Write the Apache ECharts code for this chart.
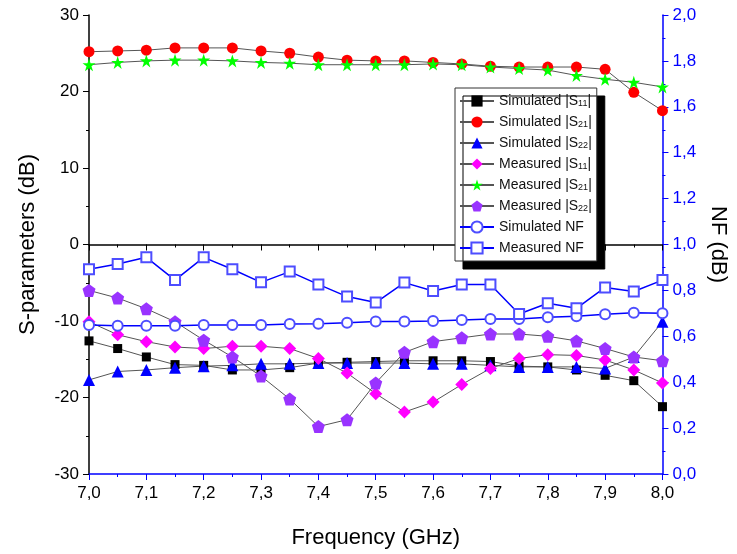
<!doctype html>
<html>
<head>
    <meta charset="utf-8">
    <title>S-parameters and NF</title>
    <script src="https://cdn.jsdelivr.net/npm/echarts@6/dist/echarts.min.js"></script>
</head>
<body style="margin:0;padding:0;background:#fff;">
    <div id="tb" style="width:737px;height:554px;"></div>
    <script>
        // frequency points (GHz)
        var freq = [7.00, 7.05, 7.10, 7.15, 7.20, 7.25, 7.30, 7.35, 7.40, 7.45, 7.50,
                    7.55, 7.60, 7.65, 7.70, 7.75, 7.80, 7.85, 7.90, 7.95, 8.00];
        // S-parameters (dB), left axis
        var simS11 = [-12.6, -13.6, -14.7, -15.7, -15.8, -16.4, -16.4, -16.1, -15.5, -15.4, -15.3,
                      -15.2, -15.2, -15.2, -15.3, -15.9, -16.0, -16.4, -17.1, -17.8, -21.2];
        var simS21 = [25.2, 25.3, 25.4, 25.7, 25.7, 25.7, 25.3, 25.0, 24.5, 24.1, 24.0,
                      24.0, 23.8, 23.6, 23.3, 23.2, 23.2, 23.2, 22.9, 19.9, 17.5];
        var simS22 = [-17.7, -16.6, -16.4, -16.1, -15.9, -15.8, -15.6, -15.6, -15.5, -15.5, -15.5,
                      -15.5, -15.6, -15.6, -15.8, -16.0, -16.0, -16.0, -16.2, -14.7, -10.1];
        var measS11 = [-10.1, -11.8, -12.7, -13.4, -13.6, -13.3, -13.3, -13.6, -14.9, -16.8, -19.5,
                       -21.9, -20.6, -18.3, -16.2, -14.9, -14.4, -14.5, -15.1, -16.4, -18.1];
        var measS21 = [23.5, 23.8, 24.0, 24.1, 24.1, 24.0, 23.8, 23.7, 23.5, 23.5, 23.5,
                       23.5, 23.6, 23.5, 23.2, 23.0, 22.8, 22.1, 21.6, 21.2, 20.6];
        var measS22 = [-6.0, -7.0, -8.4, -10.1, -12.5, -14.7, -17.2, -20.2, -23.8, -22.9, -18.1,
                       -14.1, -12.7, -12.2, -11.7, -11.7, -12.0, -12.6, -13.6, -14.7, -15.2];
        // noise figure (dB), right axis
        var simNF = [0.649, 0.646, 0.646, 0.646, 0.649, 0.649, 0.649, 0.654, 0.655, 0.659, 0.664,
                     0.664, 0.667, 0.671, 0.675, 0.675, 0.683, 0.687, 0.696, 0.703, 0.700];
        var measNF = [0.892, 0.915, 0.944, 0.845, 0.944, 0.892, 0.835, 0.882, 0.826, 0.773, 0.747,
                      0.834, 0.797, 0.826, 0.826, 0.697, 0.744, 0.722, 0.813, 0.795, 0.845];

        var pentagon = 'path://M0,-1 L0.951,-0.309 L0.588,0.809 L-0.588,0.809 L-0.951,-0.309 Z';
        var star = 'path://M0,-1 L0.225,-0.309 L0.951,-0.309 L0.363,0.118 L0.588,0.809 L0,0.382 L-0.588,0.809 L-0.363,0.118 L-0.951,-0.309 L-0.225,-0.309 Z';

        function pairs(vals) {
            return freq.map(function (f, i) { return [f, vals[i]]; });
        }
        function comma(v) {
            return v.toFixed(1).replace('.', ',');
        }
        var font = 'Liberation Sans, Arial, sans-serif';

        function sSeries(name, vals, symbol, size, color) {
            return {
                name: name, type: 'line', data: pairs(vals),
                xAxisIndex: 0, yAxisIndex: 0,
                symbol: symbol, symbolSize: size,
                lineStyle: { color: '#555', width: 1 },
                itemStyle: { color: color },
                emphasis: { disabled: true },
                animation: false
            };
        }
        function nfSeries(name, vals, symbol, size) {
            return {
                name: name, type: 'line', data: pairs(vals),
                xAxisIndex: 0, yAxisIndex: 1,
                symbol: symbol, symbolSize: size,
                lineStyle: { color: '#0000ff', width: 1.5 },
                itemStyle: { color: '#4d4dff', borderWidth: 1 },
                emphasis: { disabled: true },
                animation: false
            };
        }

        var chart = echarts.init(document.getElementById('tb'));
        chart.setOption({
            backgroundColor: '#fff',
            textStyle: { fontFamily: font },
            grid: { left: 89, right: 73, top: 15, bottom: 80 },
            legend: {
                left: 455, top: 88, orient: 'vertical',
                itemGap: 7, itemWidth: 34, itemHeight: 14,
                padding: [6, 5, 6, 4],
                backgroundColor: '#fff',
                borderColor: '#333', borderWidth: 1,
                shadowColor: '#000', shadowOffsetX: 8, shadowOffsetY: 8, shadowBlur: 0,
                textStyle: {
                    fontSize: 14, color: '#111', fontFamily: font,
                    rich: { sub: { fontSize: 9, verticalAlign: 'bottom', padding: [5, 0, 0, 0] } }
                },
                formatter: function (n) {
                    var m = n.match(/^(.*)\|S(\d\d)\|$/);
                    return m ? m[1] + '|S{sub|' + m[2] + '}|' : n;
                },
                data: ['Simulated |S11|', 'Simulated |S21|', 'Simulated |S22|',
                       'Measured |S11|', 'Measured |S21|', 'Measured |S22|',
                       'Simulated NF', 'Measured NF']
            },
            xAxis: [{
                type: 'value', min: 7, max: 8, interval: 0.1,
                name: 'Frequency (GHz)', nameLocation: 'middle', nameGap: 53,
                nameTextStyle: { fontSize: 22, color: '#000', fontFamily: font },
                axisLine: { show: true, lineStyle: { color: '#000', width: 1.5 } },
                axisTick: { show: true, inside: false, length: 6, lineStyle: { color: '#000' } },
                minorTick: { show: true, splitNumber: 2, length: 3, lineStyle: { color: '#000' } },
                axisLabel: { fontSize: 17, color: '#000', margin: 11, formatter: comma },
                splitLine: { show: false }
            }, {
                type: 'value', min: 7, max: 8, interval: 0.1, position: 'top',
                axisLine: { show: true, lineStyle: { color: '#0000ff', width: 1.5 } },
                axisTick: { show: true, inside: true, length: 6, lineStyle: { color: '#0000ff' } },
                minorTick: { show: true, splitNumber: 2, length: 3, lineStyle: { color: '#0000ff' } },
                axisLabel: { show: false },
                splitLine: { show: false }
            }],
            yAxis: [{
                type: 'value', min: -30, max: 30, interval: 10,
                name: 'S-parameters (dB)', nameLocation: 'middle', nameGap: 50, nameRotate: 90,
                nameTextStyle: { fontSize: 22, color: '#000', fontFamily: font },
                axisLine: { show: true, lineStyle: { color: '#000', width: 1.5 } },
                axisTick: { show: true, inside: false, length: 6, lineStyle: { color: '#000' } },
                minorTick: { show: true, splitNumber: 2, length: 3, lineStyle: { color: '#000' } },
                axisLabel: { fontSize: 17, color: '#000', margin: 10 },
                splitLine: { show: false }
            }, {
                type: 'value', min: 0, max: 2, interval: 0.2, position: 'right',
                name: 'NF (dB)', nameLocation: 'middle', nameGap: 40, nameRotate: -90,
                nameTextStyle: { fontSize: 22, color: '#000', fontFamily: font },
                axisLine: { show: true, lineStyle: { color: '#0000ff', width: 1.5 } },
                axisTick: { show: true, inside: false, length: 6, lineStyle: { color: '#0000ff' } },
                minorTick: { show: true, splitNumber: 2, length: 3, lineStyle: { color: '#0000ff' } },
                axisLabel: { fontSize: 17, color: '#0000ff', margin: 10, formatter: comma },
                splitLine: { show: false }
            }],
            series: [
                sSeries('Simulated |S11|', simS11, 'rect', 9, '#000'),
                sSeries('Simulated |S21|', simS21, 'circle', 11, '#ff0000'),
                sSeries('Simulated |S22|', simS22, 'triangle', 12, '#0000ff'),
                sSeries('Measured |S11|', measS11, 'diamond', 13, '#ff00ff'),
                sSeries('Measured |S21|', measS21, star, 13, '#00ff00'),
                sSeries('Measured |S22|', measS22, pentagon, 13, '#9933ff'),
                nfSeries('Simulated NF', simNF, 'emptyCircle', 10),
                nfSeries('Measured NF', measNF, 'emptyRect', 10)
            ]
        });
    </script>
</body>
</html>
